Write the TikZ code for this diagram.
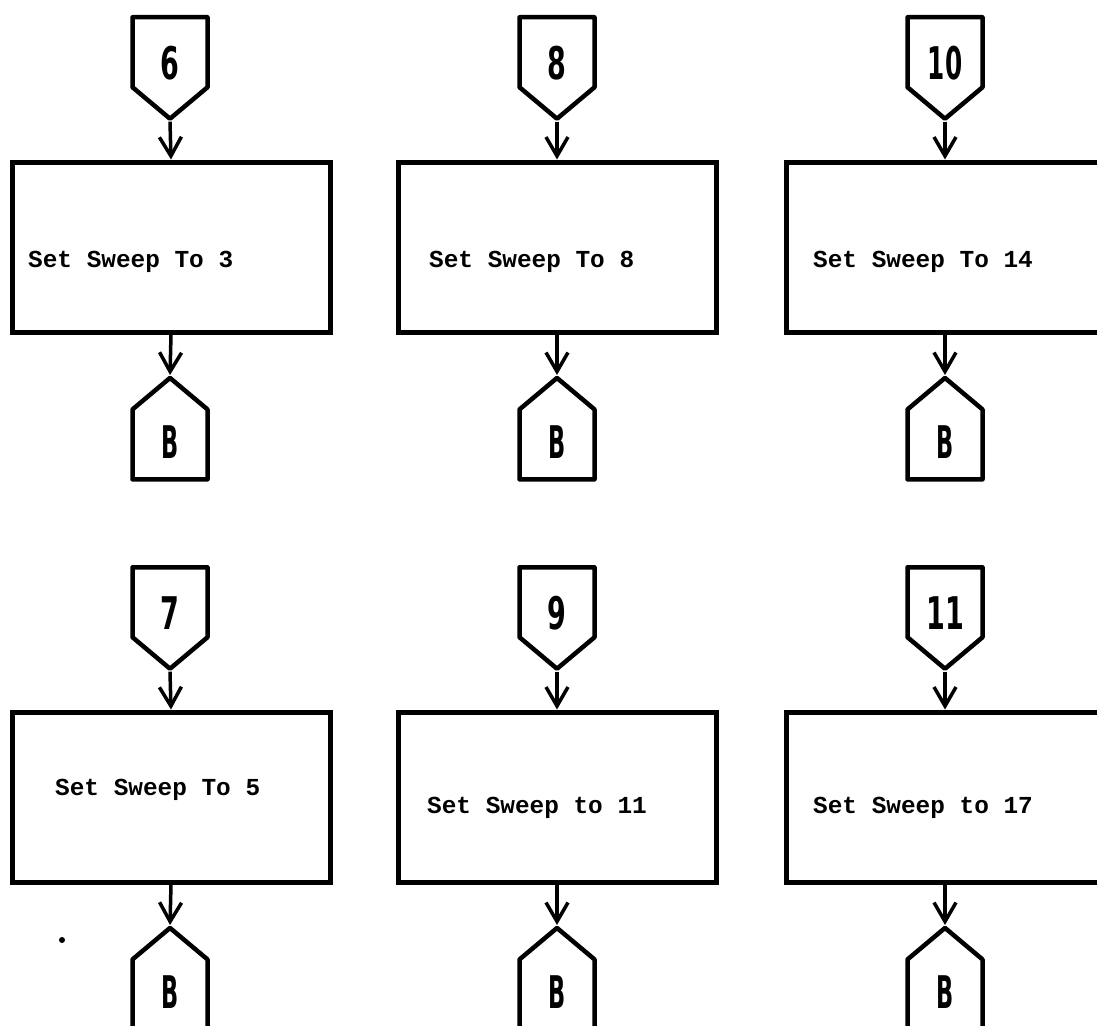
\documentclass[tikz,border=0pt]{standalone}
\usepackage{fontspec}
\newfontfamily\twfont{Liberation Mono}
\newfontfamily\digfont{DejaVu Sans}
\usetikzlibrary{shapes.symbols,arrows.meta}
\begin{document}
\begin{tikzpicture}[x=1pt,y=-1pt,
  conn/.style={signal, signal from=nowhere, signal pointer angle=100, draw,
    line width=4.5pt, minimum width=75pt, minimum height=70pt, inner sep=0pt, line join=round},
  inconn/.style={conn, signal to=south, anchor=north},
  outconn/.style={conn, signal to=north, anchor=north},
  procbox/.style={draw, line width=5pt, minimum width=318pt, minimum height=170pt, inner sep=0pt},
  numlab/.style={font=\digfont\bfseries\fontsize{45}{45}\selectfont, inner sep=0pt},
  blab/.style={font=\digfont\bfseries\fontsize{45}{45}\selectfont, inner sep=0pt},
  boxtext/.style={font=\twfont\bfseries\fontsize{24.4}{26}\selectfont, anchor=west, inner sep=0pt},
  flow/.style={line width=3.5pt, -{Straight Barb[length=19pt,width=22pt]}}
]
\useasboundingbox (0,0) rectangle (1097,1025);
\clip (0,0) rectangle (1097,1025);

% ---- row 1 ----
\node[inconn] (in1) at (170,15) {};
\node[inconn] (in2) at (557,15) {};
\node[inconn] (in3) at (945,15) {};
\node[numlab] (n1) at (170,63) {\scalebox{0.6}[1]{6}};
\node[numlab] (n2) at (557,63) {\scalebox{0.6}[1]{8}};
\node[numlab] (n3) at (945,63) {\scalebox{0.55}[1]{10}};

\node[procbox] (b1) at (171,247) {};
\node[procbox] (b2) at (557,247) {};
\node[procbox] (b3) at (945,247) {};
\node[boxtext] (t1) at (28,262) {Set Sweep To 3};
\node[boxtext] (t2) at (429,262) {Set Sweep To 8};
\node[boxtext] (t3) at (813,262) {Set Sweep To 14};

\node[outconn] (out1) at (170,375) {};
\node[outconn] (out2) at (557,375) {};
\node[outconn] (out3) at (945,375) {};
\node[blab] (o1) at (170,442) {\scalebox{0.5}[1]{B}};
\node[blab] (o2) at (557,442) {\scalebox{0.5}[1]{B}};
\node[blab] (o3) at (945,442) {\scalebox{0.5}[1]{B}};

\draw[flow] (in1.south) -- (b1.north);
\draw[flow] (in2.south) -- (b2.north);
\draw[flow] (in3.south) -- (b3.north);
\draw[flow] (b1.south) -- (out1.north);
\draw[flow] (b2.south) -- (out2.north);
\draw[flow] (b3.south) -- (out3.north);

% ---- row 2 ----
\node[inconn] (in4) at (170,565) {};
\node[inconn] (in5) at (557,565) {};
\node[inconn] (in6) at (945,565) {};
\node[numlab] (n4) at (170,613) {\scalebox{0.6}[1]{7}};
\node[numlab] (n5) at (557,613) {\scalebox{0.6}[1]{9}};
\node[numlab] (n6) at (945,613) {\scalebox{0.6}[1]{11}};

\node[procbox] (b4) at (171,797) {};
\node[procbox] (b5) at (557,797) {};
\node[procbox] (b6) at (945,797) {};
\node[boxtext] (t4) at (55,790) {Set Sweep To 5};
\node[boxtext] (t5) at (427,808) {Set Sweep to 11};
\node[boxtext] (t6) at (813,808) {Set Sweep to 17};

\node[outconn] (out4) at (170,925) {};
\node[outconn] (out5) at (557,925) {};
\node[outconn] (out6) at (945,925) {};
\node[blab] (o4) at (170,992) {\scalebox{0.5}[1]{B}};
\node[blab] (o5) at (557,992) {\scalebox{0.5}[1]{B}};
\node[blab] (o6) at (945,992) {\scalebox{0.5}[1]{B}};

\draw[flow] (in4.south) -- (b4.north);
\draw[flow] (in5.south) -- (b5.north);
\draw[flow] (in6.south) -- (b6.north);
\draw[flow] (b4.south) -- (out4.north);
\draw[flow] (b5.south) -- (out5.north);
\draw[flow] (b6.south) -- (out6.north);

% stray dot
\fill (62,940) circle (3pt);
\end{tikzpicture}
\end{document}
